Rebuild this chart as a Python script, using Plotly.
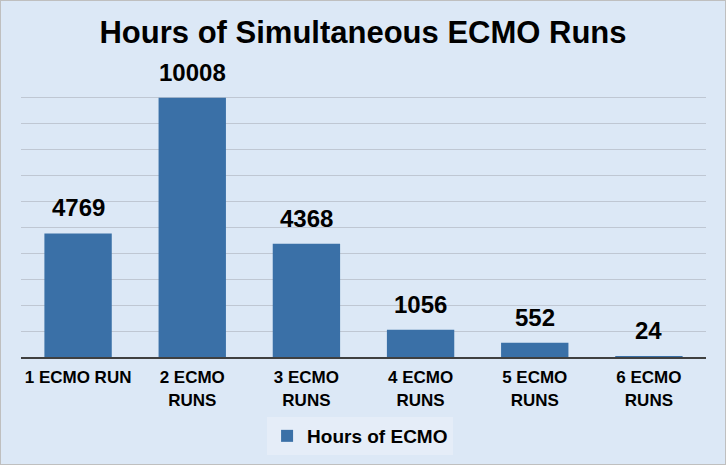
import plotly.graph_objects as go

categories = ["1 ECMO RUN", "2 ECMO<br>RUNS", "3 ECMO<br>RUNS", "4 ECMO<br>RUNS", "5 ECMO<br>RUNS", "6 ECMO<br>RUNS"]
hours = [4769, 10008, 4368, 1056, 552, 24]
series_name = "Hours of ECMO"
title = "Hours of Simultaneous ECMO Runs"

bg = "#DCE8F6"
bar_color = "#3A70A7"
FONT = "Liberation Sans, Arial, sans-serif"

fig = go.Figure()
fig.add_trace(go.Bar(
    x=categories, y=hours, name="<b>" + series_name + "</b>",
    marker=dict(color=bar_color, line=dict(width=0)),
    width=0.59, showlegend=True,
))

for c, v in zip(categories, hours):
    fig.add_annotation(x=c, y=v, text="<b>%d</b>" % v, showarrow=False,
                       yanchor="bottom", yshift=10,
                       font=dict(family=FONT, size=24, color="black"))

fig.update_layout(
    width=726, height=465,
    margin=dict(l=21, r=20, t=72, b=108, autoexpand=False),
    paper_bgcolor=bg, plot_bgcolor=bg,
    title=dict(text="<b>" + title + "</b>", x=0.5, xanchor="center",
               yref="container", y=1 - 32.5/465, yanchor="middle",
               font=dict(family=FONT, size=31, color="black")),
    xaxis=dict(showline=True, linecolor="#404040", linewidth=2, ticks="",
               tickfont=dict(family=FONT, size=17, color="black"),
               tickprefix="<b>", ticksuffix="</b>", ticklabelstandoff=4,
               showgrid=False, automargin=False),
    yaxis=dict(range=[0, 11000], dtick=1000, showticklabels=False, showgrid=True,
               gridcolor="#BFC7D3", gridwidth=1, zeroline=False, automargin=False),
    legend=dict(orientation="h", x=0.495, xanchor="center",
                yref="container", y=1 - 436/465, yanchor="middle",
                bgcolor="#E5EDF8", font=dict(family=FONT, size=19, color="black")),
    showlegend=True,
)

fig.add_shape(type="rect", xref="paper", yref="paper",
              x0=-21/685, x1=1+20/685, y0=-108/285, y1=1+72/285,
              line=dict(color="#BFBFBF", width=2), layer="above")

fig.write_html("out.html")
